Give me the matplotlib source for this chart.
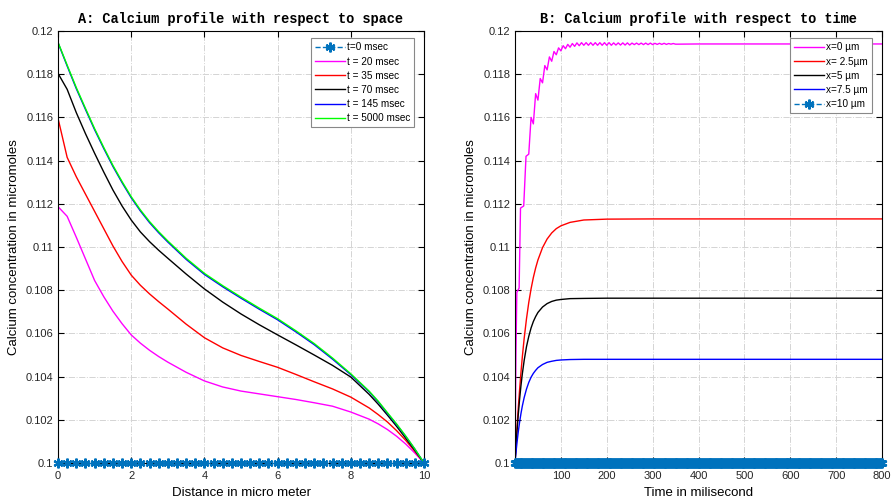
import numpy as np
import matplotlib
matplotlib.use("Agg")
import matplotlib.pyplot as plt
from matplotlib.ticker import FuncFormatter

plt.rcParams['font.family'] = ['Liberation Sans', 'DejaVu Sans']

# ---- panel A: concentration vs distance ----
x_um = [0, 0.25, 0.5, 0.75, 1, 1.25, 1.5, 1.75, 2, 2.25, 2.5, 2.75, 3, 3.5, 4, 4.5,
        5, 5.5, 6, 6.5, 7, 7.5, 8, 8.5, 8.75, 9, 9.25, 9.5, 9.75, 10]
ca_t20 = [0.11187, 0.11142, 0.11045, 0.10945, 0.10845, 0.10770, 0.10703, 0.10645, 0.10593,
          0.10555, 0.10522, 0.10493, 0.10467, 0.10420, 0.10380, 0.10352, 0.10333, 0.10320,
          0.10307, 0.10294, 0.10279, 0.10263, 0.10236, 0.10203, 0.10181, 0.10155, 0.10124,
          0.10088, 0.10046, 0.1]
ca_t35 = [0.11596, 0.11415, 0.11325, 0.11245, 0.11165, 0.11085, 0.11005, 0.10933, 0.10870,
          0.10823, 0.10783, 0.10747, 0.10713, 0.10643, 0.10580, 0.10533, 0.10498, 0.10470,
          0.10443, 0.10410, 0.10376, 0.10343, 0.10305, 0.10255, 0.10224, 0.10190, 0.10150,
          0.10105, 0.10054, 0.1]
ca_t70 = [0.11804, 0.11730, 0.11622, 0.11525, 0.11434, 0.11347, 0.11264, 0.11190, 0.11125,
          0.11070, 0.11025, 0.10985, 0.10948, 0.10875, 0.10806, 0.10745, 0.10690, 0.10640,
          0.10593, 0.10547, 0.10500, 0.10452, 0.10398, 0.10318, 0.10272, 0.10222, 0.10170,
          0.10115, 0.10059, 0.1]
ca_t145 = [0.11946, 0.11838, 0.11733, 0.11637, 0.11543, 0.11456, 0.11373, 0.11298, 0.11228,
           0.11167, 0.11113, 0.11066, 0.11023, 0.10943, 0.10873, 0.10816, 0.10763, 0.10712,
           0.10663, 0.10607, 0.10548, 0.10481, 0.10409, 0.10330, 0.10283, 0.10230, 0.10178,
           0.10123, 0.10064, 0.1]
ca_t5000 = [0.11948, 0.11842, 0.11738, 0.11642, 0.11548, 0.11461, 0.11378, 0.11303, 0.11233,
            0.11172, 0.11118, 0.11071, 0.11028, 0.10948, 0.10878, 0.10821, 0.10768, 0.10717,
            0.10668, 0.10612, 0.10553, 0.10486, 0.10413, 0.10333, 0.10286, 0.10233, 0.10181,
            0.10125, 0.10065, 0.1]
x_stars = np.arange(0, 10.01, 0.25)
ca_t0 = [0.1] * len(x_stars)

# ---- panel B: concentration vs time ----
t_ms = [0, 1, 2, 3, 4, 5, 7, 10, 13, 16, 20, 25, 30, 35, 40, 45, 50, 60, 70, 80, 90,
        100, 120, 150, 200, 300, 500, 800]
ca_x25 = [0.1, 0.10040, 0.10078, 0.10115, 0.10150, 0.10185, 0.10250, 0.10339, 0.10420,
          0.10492, 0.10577, 0.10667, 0.10743, 0.10806, 0.10859, 0.10903, 0.10940, 0.10997,
          0.11037, 0.11065, 0.11085, 0.11098, 0.11114, 0.11125, 0.11129, 0.1113, 0.1113, 0.1113]
ca_x5 = [0.1, 0.10036, 0.10071, 0.10104, 0.10135, 0.10165, 0.10221, 0.10295, 0.10358,
         0.10413, 0.10475, 0.10538, 0.10586, 0.10625, 0.10655, 0.10678, 0.10697, 0.10722,
         0.10738, 0.10748, 0.10754, 0.10757, 0.10761, 0.10762, 0.10763, 0.10763, 0.10763, 0.10763]
ca_x75 = [0.1, 0.10023, 0.10046, 0.10067, 0.10087, 0.10106, 0.10142, 0.10189, 0.10229,
          0.10264, 0.10303, 0.10342, 0.10373, 0.10397, 0.10415, 0.10429, 0.10441, 0.10456,
          0.10466, 0.10471, 0.10475, 0.10477, 0.10479, 0.1048, 0.1048, 0.1048, 0.1048, 0.1048]
t_x0 = [0, 2, 4, 9, 12, 19, 24, 30, 35, 40, 45, 50, 55, 60, 65, 70, 75, 80, 85, 90, 95, 100,
        105, 110, 115, 120, 125, 130, 135, 140, 145, 150, 155, 160, 165, 170, 175, 180, 185,
        190, 195, 200, 205, 210, 215, 220, 225, 230, 235, 240, 245, 250, 255, 260, 265, 270,
        275, 280, 285, 290, 295, 300, 305, 310, 315, 320, 325, 330, 335, 340, 345, 350, 400, 800]
ca_x0 = [0.1, 0.105, 0.1079, 0.1081, 0.1118, 0.1119, 0.1142, 0.1143, 0.116, 0.1157, 0.1171,
         0.1168, 0.1178, 0.1176, 0.1184, 0.1182, 0.1188, 0.1186, 0.11905, 0.1189, 0.11922,
         0.11908, 0.11932, 0.11918, 0.11938, 0.11925, 0.11942, 0.11929, 0.11945, 0.11932,
         0.11946, 0.11934, 0.11946, 0.11934, 0.11946, 0.11934, 0.11946, 0.11934, 0.11946,
         0.11934, 0.11946, 0.11934, 0.11946, 0.11934, 0.11945, 0.11935, 0.11945, 0.11935,
         0.11945, 0.11935, 0.11945, 0.11935, 0.11944, 0.11937, 0.11944, 0.11937, 0.11944,
         0.11937, 0.11944, 0.11937, 0.11944, 0.11937, 0.11943, 0.11938, 0.11943, 0.11938,
         0.11943, 0.11938, 0.11942, 0.11939, 0.11942, 0.11939, 0.1194, 0.1194]
t_stars = np.arange(0, 801, 2)
ca_x10 = [0.1] * len(t_stars)

yticks = [0.1, 0.102, 0.104, 0.106, 0.108, 0.11, 0.112, 0.114, 0.116, 0.118, 0.12]

star_blue = '#0072BD'
star_kw = dict(color=star_blue, linestyle='--', lw=1.0, marker=(6, 2, 0),
               markersize=7, markeredgewidth=1.6, clip_on=False, zorder=5)

fig = plt.figure(figsize=(8.94, 5.01), dpi=100)
axA = fig.add_axes([58 / 894, 38 / 501, 366 / 894, 432 / 501])
axB = fig.add_axes([515 / 894, 38 / 501, 367 / 894, 432 / 501])

axA.plot(x_stars, ca_t0, label='t=0 msec', **star_kw)
axA.plot(x_um, ca_t20, color='#FF00FF', lw=1.0, label='t = 20 msec')
axA.plot(x_um, ca_t35, color='#FF0000', lw=1.0, label='t = 35 msec')
axA.plot(x_um, ca_t70, color='#000000', lw=1.0, label='t = 70 msec')
axA.plot(x_um, ca_t145, color='#0000FF', lw=1.0, label='t = 145 msec')
axA.plot(x_um, ca_t5000, color='#00FF00', lw=1.0, label='t = 5000 msec')
axA.set_xlim(0, 10)
axA.set_xticks([0, 2, 4, 6, 8, 10])
axA.set_xlabel('Distance in micro meter', fontsize=9.5, labelpad=4)
axA.set_title('A: Calcium profile with respect to space', fontfamily='Liberation Mono',
              fontweight='bold', fontsize=9.8, pad=6)

axB.plot(t_x0, ca_x0, color='#FF00FF', lw=1.0, label='x=0 µm')
axB.plot(t_ms, ca_x25, color='#FF0000', lw=1.0, label='x= 2.5µm')
axB.plot(t_ms, ca_x5, color='#000000', lw=1.0, label='x=5 µm')
axB.plot(t_ms, ca_x75, color='#0000FF', lw=1.0, label='x=7.5 µm')
axB.plot(t_stars, ca_x10, label='x=10 µm', **star_kw)
axB.set_xlim(0, 800)
axB.set_xticks([100, 200, 300, 400, 500, 600, 700, 800])
axB.set_xlabel('Time in milisecond', fontsize=9.5, labelpad=4)
axB.set_title('B: Calcium profile with respect to time', fontfamily='Liberation Mono',
              fontweight='bold', fontsize=9.8, pad=6)

for ax in (axA, axB):
    ax.set_ylim(0.1, 0.12)
    ax.set_yticks(yticks)
    ax.yaxis.set_major_formatter(FuncFormatter(lambda v, p: '{:g}'.format(round(v, 4))))
    ax.set_ylabel('Calcium concentration in micromoles', fontsize=9.5)
    ax.grid(True, color='#d4d4d4', linestyle='-.', linewidth=0.7)
    ax.set_axisbelow(True)
    ax.tick_params(direction='in', length=4, width=0.8, top=True, right=True,
                   labelsize=8, colors='#000000', labelcolor='#262626')
    ax.tick_params(axis='x', pad=6)
    for s in ax.spines.values():
        s.set_linewidth(0.8)
    leg = ax.legend(loc='upper right', bbox_to_anchor=(0.973, 0.983), borderaxespad=0,
                    fontsize=7.2, fancybox=False, framealpha=1, edgecolor='#888888',
                    handlelength=3.0, handletextpad=0.2, labelspacing=0.42,
                    borderpad=0.4)
    leg.get_frame().set_linewidth(0.8)

fig.savefig('out.png', dpi=100)
